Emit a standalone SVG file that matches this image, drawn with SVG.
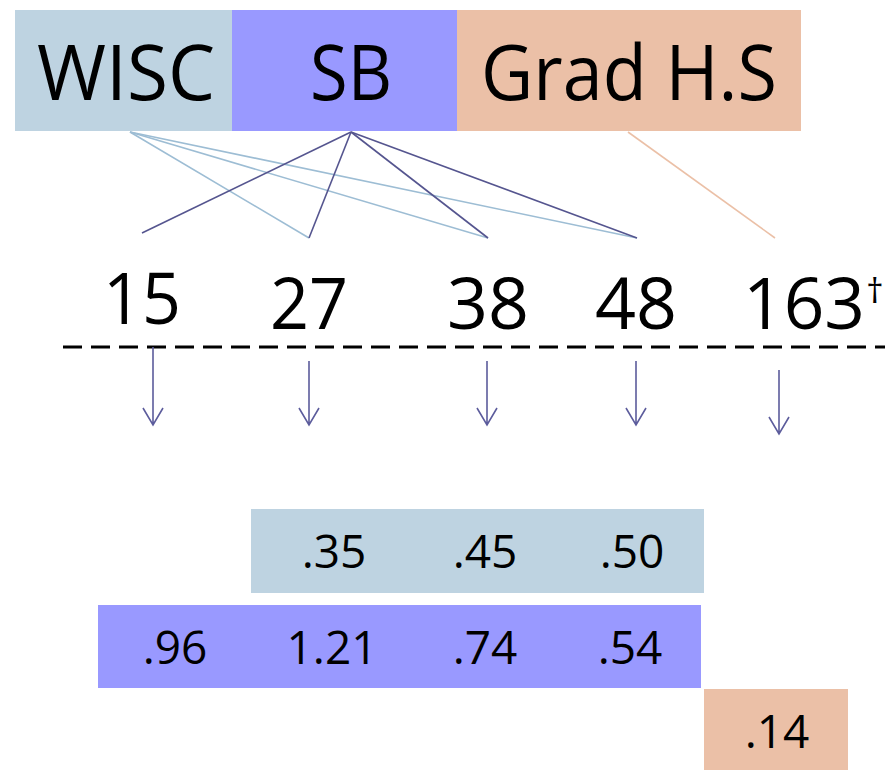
<svg xmlns="http://www.w3.org/2000/svg" width="885" height="770" viewBox="0 0 885 770">
  <style>
    .t { font-family: "Open Sans", "Liberation Sans", sans-serif; fill: #000; text-anchor: middle; }
    .big { font-size: 77px; }
    .num { font-size: 72px; }
    .val { font-size: 46px; }
    .wisc { fill: #BED3E1; }
    .sb { fill: #9999FF; }
    .grad { fill: #EBC0A7; }
    .cw { stroke: #9DBDD4; stroke-width: 1.6; fill: none; }
    .cs { stroke: #55558F; stroke-width: 1.6; fill: none; }
    .cg { stroke: #EBC0A7; stroke-width: 1.6; fill: none; }
    .ar { stroke: #5C5C9C; stroke-width: 1.6; fill: none; }
  </style>

  <!-- header tests -->
  <g id="node-wisc">
    <rect class="wisc" x="15" y="10" width="217" height="121"/>
    <text class="t big" x="126" y="100" textLength="178" lengthAdjust="spacingAndGlyphs">WISC</text>
  </g>
  <g id="node-sb">
    <rect class="sb" x="232" y="10" width="225" height="121"/>
    <text class="t big" x="351" y="100" textLength="82" lengthAdjust="spacingAndGlyphs">SB</text>
  </g>
  <g id="node-grad">
    <rect class="grad" x="457" y="10" width="344" height="121"/>
    <text class="t big" x="629" y="100" textLength="296" lengthAdjust="spacingAndGlyphs">Grad H.S</text>
  </g>

  <!-- ages -->
  <g id="age-15"><text class="t num" x="142" y="324" textLength="78" lengthAdjust="spacingAndGlyphs">15</text></g>
  <g id="age-27"><text class="t num" x="309" y="329" textLength="78" lengthAdjust="spacingAndGlyphs">27</text></g>
  <g id="age-38"><text class="t num" x="488" y="329" textLength="82" lengthAdjust="spacingAndGlyphs">38</text></g>
  <g id="age-48"><text class="t num" x="636" y="329" textLength="82" lengthAdjust="spacingAndGlyphs">48</text></g>
  <g id="age-163">
    <text class="t num" x="804" y="329" textLength="122" lengthAdjust="spacingAndGlyphs">163</text>
    <text x="875" y="303" font-family="Open Sans, Liberation Sans, sans-serif" font-size="34" text-anchor="middle">†</text>
  </g>

  <!-- connectors -->
  <g id="connectors">
    <line class="cw" x1="130" y1="132" x2="309" y2="238"/>
    <line class="cw" x1="130" y1="132" x2="488" y2="238"/>
    <line class="cw" x1="130" y1="132" x2="637" y2="238"/>
    <line class="cs" x1="351" y1="132" x2="142" y2="233"/>
    <line class="cs" x1="351" y1="132" x2="309" y2="238"/>
    <line class="cs" x1="351" y1="132" x2="488" y2="238"/>
    <line class="cs" x1="351" y1="132" x2="637" y2="238"/>
    <line class="cg" x1="628" y1="132" x2="775" y2="238"/>

    <!-- timeline -->
    <line x1="63" y1="347" x2="885" y2="347" stroke="#000" stroke-width="3" stroke-dasharray="19 9"/>

    <!-- down arrows -->
    <path class="ar" d="M153 347V425M143 408L153 425L163 408"/>
    <path class="ar" d="M309 361V425M299 408L309 425L319 408"/>
    <path class="ar" d="M487 361V425M477 408L487 425L497 408"/>
    <path class="ar" d="M636 361V425M626 408L636 425L646 408"/>
    <path class="ar" d="M779 370V434M769 417L779 434L789 417"/>
  </g>

  <!-- coefficient rows -->
  <g id="row-wisc">
    <rect class="wisc" x="251" y="509" width="453" height="84"/>
    <text class="t val" x="334" y="568">.35</text>
    <text class="t val" x="485" y="568">.45</text>
    <text class="t val" x="632" y="568">.50</text>
  </g>
  <g id="row-sb">
    <rect class="sb" x="98" y="605" width="603" height="83"/>
    <text class="t val" x="175" y="664">.96</text>
    <text class="t val" x="332" y="664">1.21</text>
    <text class="t val" x="485" y="664">.74</text>
    <text class="t val" x="630" y="664">.54</text>
  </g>
  <g id="row-grad">
    <rect class="grad" x="704" y="689" width="144" height="81"/>
    <text class="t val" x="777" y="748">.14</text>
  </g>
</svg>
